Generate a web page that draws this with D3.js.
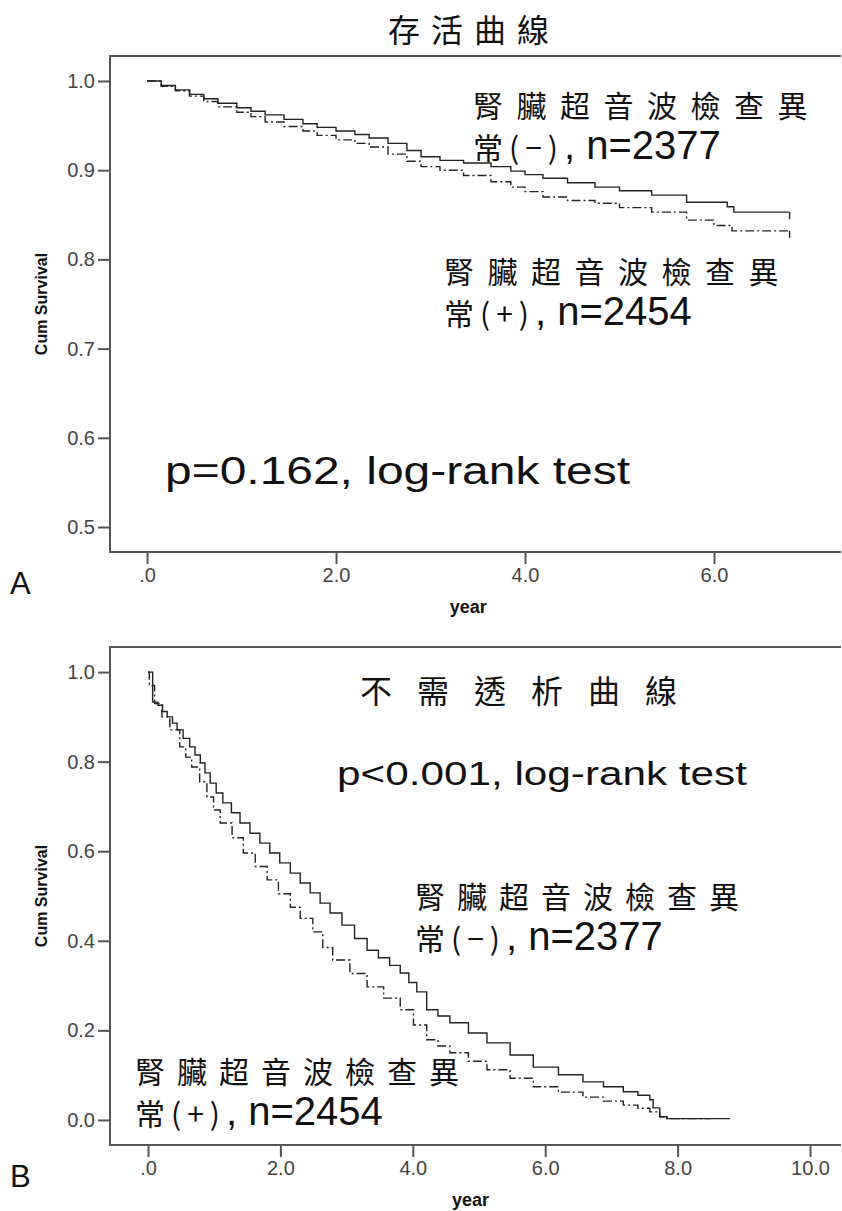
<!DOCTYPE html>
<html>
<head>
<meta charset="utf-8">
<script src="https://cdn.jsdelivr.net/npm/d3@7"></script>
<style>
  body { margin: 0; background: #fff; }
  svg { display: block; }
</style>
</head>
<body>
<div id="chart"></div>
<script>
const WIDTH = 842;
const HEIGHT = 1211;

// Panel A: overall survival, [year, cum survival]
const survivalNeg = [
  [0, 1.0], [0.15, 0.995], [0.30, 0.990], [0.45, 0.985], [0.60, 0.980], [0.75, 0.975],
  [0.95, 0.970], [1.10, 0.966], [1.25, 0.962], [1.45, 0.957], [1.65, 0.952], [1.80, 0.948],
  [2.00, 0.944], [2.20, 0.940], [2.35, 0.936], [2.55, 0.930], [2.75, 0.922], [2.90, 0.915],
  [3.10, 0.911], [3.35, 0.908], [3.64, 0.904], [3.85, 0.899], [4.00, 0.895], [4.19, 0.891],
  [4.45, 0.886], [4.74, 0.881], [5.00, 0.877], [5.34, 0.872], [5.71, 0.864], [6.14, 0.859],
  [6.21, 0.853], [6.80, 0.853]
];
const survivalPos = [
  [0, 1.0], [0.15, 0.994], [0.30, 0.989], [0.45, 0.983], [0.60, 0.977], [0.75, 0.971],
  [0.95, 0.965], [1.10, 0.960], [1.25, 0.954], [1.45, 0.949], [1.65, 0.944], [1.80, 0.939],
  [2.00, 0.934], [2.20, 0.930], [2.35, 0.926], [2.55, 0.918], [2.75, 0.910], [2.90, 0.904],
  [3.10, 0.900], [3.35, 0.894], [3.64, 0.887], [3.85, 0.881], [4.00, 0.876], [4.19, 0.870],
  [4.45, 0.866], [4.74, 0.863], [5.00, 0.858], [5.34, 0.853], [5.71, 0.844], [6.00, 0.838],
  [6.19, 0.832], [6.80, 0.832]
];

// Panel B: dialysis-free survival
const dialysisNeg = [
  [0, 1.0], [0.07, 0.933], [0.15, 0.926], [0.22, 0.912], [0.29, 0.900], [0.37, 0.886],
  [0.44, 0.871], [0.53, 0.852], [0.63, 0.833], [0.71, 0.815], [0.79, 0.797], [0.86, 0.775],
  [0.94, 0.752], [1.03, 0.730], [1.13, 0.708], [1.26, 0.686], [1.39, 0.663], [1.54, 0.640],
  [1.69, 0.618], [1.84, 0.596], [1.99, 0.574], [2.15, 0.551], [2.30, 0.529], [2.45, 0.507],
  [2.60, 0.484], [2.75, 0.462], [2.93, 0.435], [3.12, 0.405], [3.31, 0.379], [3.48, 0.362],
  [3.65, 0.345], [3.81, 0.328], [3.94, 0.307], [4.06, 0.286], [4.21, 0.246], [4.38, 0.232],
  [4.56, 0.217], [4.84, 0.194], [5.12, 0.172], [5.47, 0.145], [5.82, 0.118], [6.20, 0.101],
  [6.57, 0.085], [6.88, 0.074], [7.18, 0.063], [7.40, 0.055], [7.58, 0.045], [7.63, 0.027],
  [7.73, 0.007], [7.84, 0.003], [8.79, 0.003]
];
const dialysisPos = [
  [0, 1.0], [0.02, 0.970], [0.10, 0.930], [0.21, 0.900], [0.33, 0.871], [0.48, 0.833],
  [0.57, 0.810], [0.66, 0.788], [0.78, 0.755], [0.89, 0.721], [0.99, 0.692], [1.09, 0.663],
  [1.27, 0.630], [1.44, 0.596], [1.62, 0.566], [1.80, 0.536], [1.97, 0.505], [2.15, 0.475],
  [2.30, 0.450], [2.49, 0.420], [2.64, 0.385], [2.79, 0.357], [3.05, 0.327], [3.31, 0.297],
  [3.56, 0.272], [3.81, 0.246], [4.01, 0.212], [4.21, 0.179], [4.38, 0.165], [4.56, 0.150],
  [4.84, 0.131], [5.12, 0.112], [5.47, 0.093], [5.82, 0.074], [6.20, 0.062], [6.57, 0.051],
  [6.88, 0.042], [7.18, 0.033], [7.40, 0.026], [7.58, 0.018], [7.73, 0.007], [7.84, 0.003],
  [8.50, 0.003]
];

const yTicksA = [0.5, 0.6, 0.7, 0.8, 0.9, 1.0];
const xTicksA = [0, 2, 4, 6];
const yTicksB = [0.0, 0.2, 0.4, 0.6, 0.8, 1.0];
const xTicksB = [0, 2, 4, 6, 8, 10];

const groupLine1 = '腎臟超音波檢查異';
const groupNeg = ['常(−)', ', n=2377'];
const groupPos = ['常(+)', ', n=2454'];

const CJK = '"Noto Sans CJK TC", "Noto Sans CJK SC", sans-serif';
const LATIN = '"Liberation Sans", Arial, sans-serif';

const svg = d3.select('#chart').append('svg')
  .attr('width', WIDTH)
  .attr('height', HEIGHT)
  .attr('viewBox', `0 0 ${WIDTH} ${HEIGHT}`);

svg.append('rect').attr('width', WIDTH).attr('height', HEIGHT).attr('fill', '#fff');

function formatTick(d) {
  return d === 0 ? '.0' : d.toFixed(1);
}

function drawPanel(p) {
  const x = d3.scaleLinear().domain(p.xDomain).range([p.left, p.right]);
  const y = d3.scaleLinear().domain(p.yDomain).range([p.bottom, p.top]);
  const g = svg.append('g');

  // frame (top, left, bottom)
  g.append('path')
    .attr('d', `M${p.right},${p.top}H${p.left}V${p.bottom}H${p.right}`)
    .attr('fill', 'none')
    .attr('stroke', '#555')
    .attr('stroke-width', 2);

  const yAxis = g.append('g')
    .attr('transform', `translate(${p.left},0)`)
    .call(d3.axisLeft(y).tickValues(p.yTicks).tickFormat(d => d.toFixed(1)).tickSize(12).tickPadding(3));
  const xAxis = g.append('g')
    .attr('transform', `translate(0,${p.bottom})`)
    .call(d3.axisBottom(x).tickValues(p.xTicks).tickFormat(formatTick).tickSize(12).tickPadding(4));

  for (const ax of [xAxis, yAxis]) {
    ax.select('.domain').remove();
    ax.selectAll('.tick line').attr('stroke', '#555').attr('stroke-width', 2);
    ax.selectAll('.tick text')
      .attr('fill', '#444')
      .attr('font-family', LATIN)
      .attr('font-size', 20);
  }

  // axis titles
  g.append('text')
    .attr('transform', `translate(47,${(p.top + p.bottom) / 2}) rotate(-90)`)
    .attr('text-anchor', 'middle')
    .attr('font-family', LATIN)
    .attr('font-weight', 'bold')
    .attr('font-size', 16)
    .attr('fill', '#111')
    .text('Cum Survival');

  g.append('text')
    .attr('x', x(p.yearAt))
    .attr('y', p.bottom + 61)
    .attr('text-anchor', 'middle')
    .attr('font-family', LATIN)
    .attr('font-weight', 'bold')
    .attr('font-size', 18)
    .attr('fill', '#111')
    .text('year');

  g.append('text')
    .attr('x', 10)
    .attr('y', p.bottom + 42)
    .attr('font-family', LATIN)
    .attr('font-size', 31)
    .attr('fill', '#111')
    .text(p.letter);

  // curves
  const line = d3.line()
    .x(d => x(d[0]))
    .y(d => y(d[1]))
    .curve(d3.curveStepAfter);

  const series = [
    {data: p.neg, dash: null},
    {data: p.pos, dash: '9,3,2,3'}
  ];
  for (const s of series) {
    g.append('path')
      .datum(s.data)
      .attr('fill', 'none')
      .attr('stroke', '#222')
      .attr('stroke-width', 1.4)
      .attr('stroke-dasharray', s.dash)
      .attr('d', line);
    if (p.endTicks) {
      const last = s.data[s.data.length - 1];
      g.append('line')
        .attr('x1', x(last[0])).attr('x2', x(last[0]))
        .attr('y1', y(last[1])).attr('y2', y(last[1]) + 7)
        .attr('stroke', '#222')
        .attr('stroke-width', 1.4);
    }
  }

  // title
  g.append('text')
    .attr('x', p.title.x)
    .attr('y', p.title.y)
    .attr('font-family', CJK)
    .attr('font-size', 32)
    .attr('letter-spacing', p.title.spacing)
    .attr('fill', '#111')
    .text(p.title.text);

  // p value
  g.append('text')
    .attr('x', p.pval.x)
    .attr('y', p.pval.y)
    .attr('font-family', LATIN)
    .attr('font-size', p.pval.size)
    .attr('textLength', p.pval.len)
    .attr('lengthAdjust', 'spacingAndGlyphs')
    .attr('fill', '#111')
    .text(p.pval.text);

  // group labels
  for (const lab of p.labels) {
    g.append('text')
      .attr('x', lab.x)
      .attr('y', lab.y)
      .attr('font-family', CJK)
      .attr('font-size', 30)
      .attr('letter-spacing', lab.spacing)
      .attr('fill', '#111')
      .text(groupLine1);
    const t = g.append('text')
      .attr('x', lab.x)
      .attr('y', lab.y + 42)
      .attr('fill', '#111');
    t.append('tspan')
      .attr('font-family', CJK)
      .attr('font-size', 30)
      .attr('letter-spacing', 6)
      .text(lab.second[0]);
    t.append('tspan')
      .attr('font-family', LATIN)
      .attr('font-size', 40)
      .text(lab.second[1]);
  }
}

drawPanel({
  letter: 'A',
  left: 110, right: 841, top: 56, bottom: 552,
  xDomain: [-0.392, 7.344],
  yDomain: [0.472, 1.028],
  xTicks: xTicksA, yTicks: yTicksA,
  yearAt: 3.4,
  neg: survivalNeg, pos: survivalPos,
  endTicks: true,
  title: {text: '存活曲線', x: 388, y: 42, spacing: 11},
  pval: {text: 'p=0.162,  log-rank  test', x: 165, y: 484, size: 38, len: 465},
  labels: [
    {x: 473, y: 117, spacing: 13.5, second: groupNeg},
    {x: 444, y: 283, spacing: 13.5, second: groupPos}
  ]
});

drawPanel({
  letter: 'B',
  left: 110, right: 841, top: 647, bottom: 1145,
  xDomain: [-0.574, 10.468],
  yDomain: [-0.056, 1.056],
  xTicks: xTicksB, yTicks: yTicksB,
  yearAt: 4.87,
  neg: dialysisNeg, pos: dialysisPos,
  endTicks: false,
  title: {text: '不需透析曲線', x: 360, y: 703, spacing: 25},
  pval: {text: 'p<0.001, log-rank test', x: 337, y: 785, size: 34, len: 410},
  labels: [
    {x: 415, y: 908, spacing: 12, second: groupNeg},
    {x: 135, y: 1083, spacing: 12, second: groupPos}
  ]
});
</script>
</body>
</html>
